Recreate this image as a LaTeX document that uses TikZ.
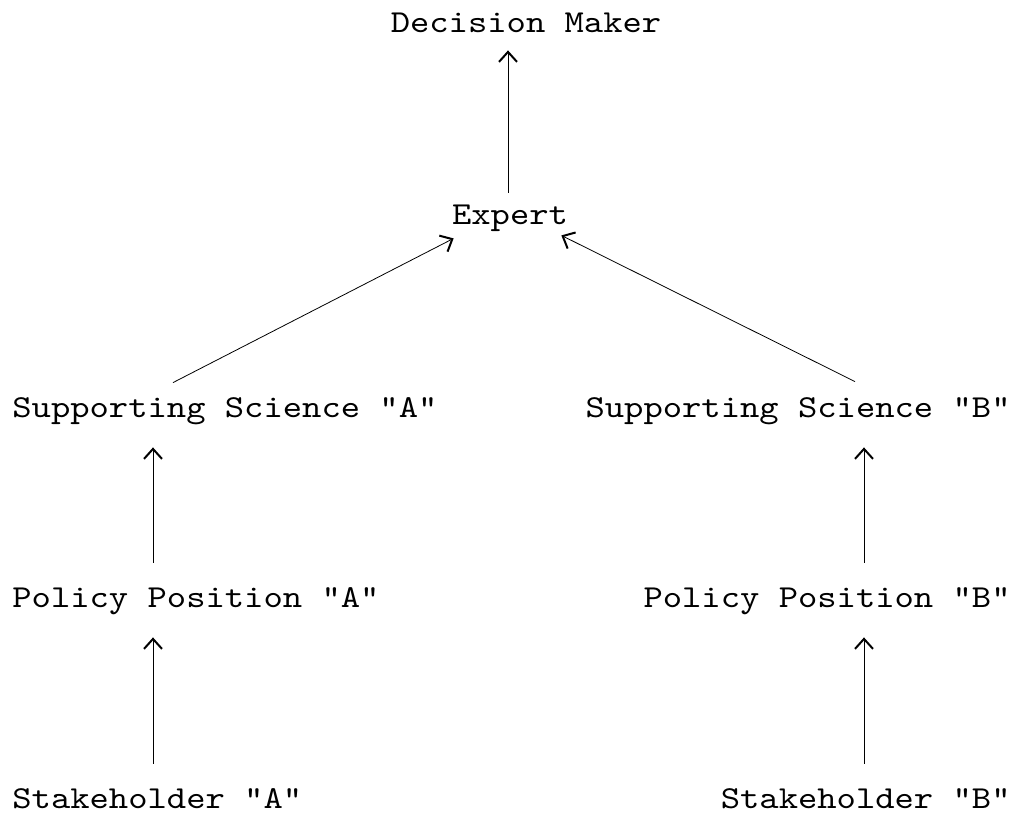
\documentclass[tikz,border=0pt]{standalone}
\usepackage{fontspec}
\newfontfamily\typewriter{lmmono10-regular.otf}[FakeStretch=1.15]
\usepackage{tikz}
\usetikzlibrary{arrows.meta}

\begin{document}
\begin{tikzpicture}[x=10pt,y=10pt,
    lbl/.style={inner sep=0pt, text height=10pt, text depth=0pt,
      font=\typewriter\fontsize{16}{19}\selectfont},
    flow/.style={line width=0.4pt,
      -{Straight Barb[length=5pt,width=9pt,line width=1pt]}},
    up/.style={flow, shorten <=12pt, shorten >=15pt}]
  \useasboundingbox (0,0) rectangle (50.7,-40.65);

  % columns of the vertical arrows
  \coordinate (colA) at (7.65,0);
  \coordinate (colM) at (25.4,0);
  \coordinate (colB) at (43.2,0);

  \node[lbl, anchor=base] (dm) at (26.3,-1.65) {Decision Maker};
  \node[lbl, anchor=base] (ex) at (25.5,-11.25) {Expert};

  \node[lbl, anchor=base west] (ssa) at (0.6,-20.85) {Supporting Science "A"};
  \node[lbl, anchor=base east] (ssb) at (50.55,-20.85) {Supporting Science "B"};
  \node[lbl, anchor=base west] (ppa) at (0.6,-30.35) {Policy Position "A"};
  \node[lbl, anchor=base east] (ppb) at (50.55,-30.35) {Policy Position "B"};
  \node[lbl, anchor=base west] (sha) at (0.6,-40.4) {Stakeholder "A"};
  \node[lbl, anchor=base east] (shb) at (50.55,-40.4) {Stakeholder "B"};

  \draw[flow, shorten <=6pt, shorten >=8.5pt] (ex.north -| colM) -- (dm.south -| colM);

  \draw[flow] ([xshift=80.5pt,yshift=7pt]ssa.north west) -- ([xshift=1pt,yshift=-6.5pt]ex.south west);
  \draw[flow] ([xshift=-78pt,yshift=7.5pt]ssb.north east) -- ([xshift=-3.5pt,yshift=-5pt]ex.south east);

  \draw[up] (ppa.north -| colA) -- (ssa.south -| colA);
  \draw[up] (ppb.north -| colB) -- (ssb.south -| colB);
  \draw[up] (sha.north -| colA) -- (ppa.south -| colA);
  \draw[up] (shb.north -| colB) -- (ppb.south -| colB);
\end{tikzpicture}
\end{document}
